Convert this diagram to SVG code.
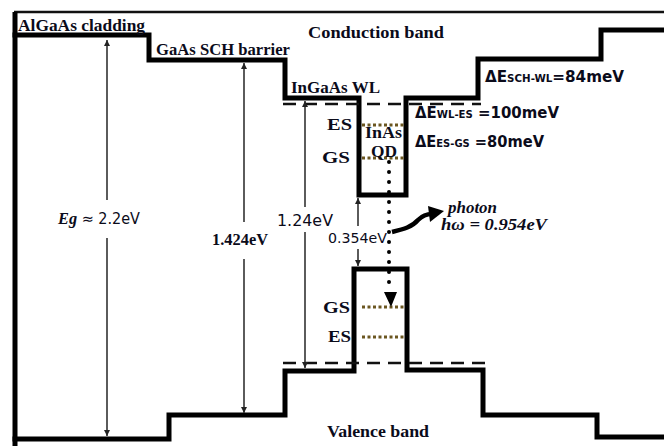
<svg xmlns="http://www.w3.org/2000/svg" width="664" height="446" viewBox="0 0 664 446">
<defs>
<style>
.band{fill:none;stroke:#000;stroke-width:5;stroke-linejoin:miter;stroke-linecap:square}
.dash{fill:none;stroke:#111;stroke-width:2.5;stroke-dasharray:13 8}
.lvl{fill:none;stroke:#6b5620;stroke-width:3;stroke-dasharray:3 2.5}
.thin{fill:none;stroke:#333;stroke-width:1.6}
.lab{font-family:"Liberation Serif",serif;font-weight:bold;font-size:16.5px;fill:#0b0b1a}
.sans{font-family:"DejaVu Sans","Liberation Sans",sans-serif;fill:#0b0b1a}
.de{font-family:"DejaVu Sans","Liberation Sans",sans-serif;font-weight:bold;font-size:15.5px;fill:#0b0b1a}
.ph{font-family:"Liberation Serif",serif;font-weight:bold;font-style:italic;font-size:16px;fill:#0b0b1a}
</style>
<marker id="ah" viewBox="0 0 10 10" refX="10" refY="5" markerWidth="6" markerHeight="7" markerUnits="userSpaceOnUse" orient="auto-start-reverse">
<path d="M0,0 L10,5 L0,10 z" fill="#222"/>
</marker>
</defs>
<rect width="664" height="446" fill="#fff"/>
<g id="frame">
<path d="M14,12 H664" stroke="#111" stroke-width="2.5" fill="none"/>
<path d="M15,12 V446" stroke="#000" stroke-width="5" fill="none"/>
</g>
<g id="conduction-band">
<path class="band" d="M15,35 H149 V60 H285 V98 H359 V195 H406 V98 H478 V59 H601 V30 H664"/>
<path class="dash" d="M283,104 H481"/>
</g>
<g id="valence-band">
<path class="band" d="M15,439 H169 V415 H285 V371 H354 V269 H407 V370 H483 V415 H597 V437 H664"/>
<path class="dash" d="M283,363 H490"/>
</g>
<g id="qd-levels">
<path class="lvl" d="M362,125 H405"/>
<path class="lvl" d="M362,158 H405"/>
<path class="lvl" d="M362,307 H404"/>
<path class="lvl" d="M362,337 H404"/>
<text class="lab" x="327" y="130" textLength="25" lengthAdjust="spacingAndGlyphs">ES</text>
<text class="lab" x="322" y="163" textLength="28" lengthAdjust="spacingAndGlyphs">GS</text>
<text class="lab" x="365" y="138" font-size="12px" textLength="37" lengthAdjust="spacingAndGlyphs">InAs</text>
<text class="lab" x="371" y="157" font-size="12px" textLength="26" lengthAdjust="spacingAndGlyphs">QD</text>
<text class="lab" x="323" y="313" textLength="27" lengthAdjust="spacingAndGlyphs">GS</text>
<text class="lab" x="328" y="342" textLength="23" lengthAdjust="spacingAndGlyphs">ES</text>
</g>
<g id="connectors">
<path class="thin" d="M107,200 V40" marker-end="url(#ah)"/>
<path class="thin" d="M107,238 V436" marker-end="url(#ah)"/>
<path class="thin" d="M244,222 V63" marker-end="url(#ah)"/>
<path class="thin" d="M244,259 V413" marker-end="url(#ah)"/>
<path class="thin" d="M305,207 V101" marker-end="url(#ah)"/>
<path class="thin" d="M305,232 V368" marker-end="url(#ah)"/>
<path class="thin" d="M358,226 V198" marker-end="url(#ah)"/>
<path class="thin" d="M358,249 V266" marker-end="url(#ah)"/>
<path d="M389,162 V292" fill="none" stroke="#000" stroke-width="4" stroke-linecap="round" stroke-dasharray="0 10"/>
<polygon points="384,292 397,292 391,307" fill="#000"/>
<path d="M392,232 C404,229 412,227 418,220 C423,215 427,214 432,214" fill="none" stroke="#000" stroke-width="4.5"/>
<polygon points="428,206 444,211 430,222" fill="#000"/>
</g>
<g id="labels">
<text class="lab" x="18" y="31" textLength="127" lengthAdjust="spacingAndGlyphs">AlGaAs cladding</text>
<text class="lab" x="156" y="55" textLength="134" lengthAdjust="spacingAndGlyphs">GaAs SCH barrier</text>
<text class="lab" x="291" y="93" textLength="89" lengthAdjust="spacingAndGlyphs">InGaAs WL</text>
<text class="lab" x="308" y="38" textLength="136" lengthAdjust="spacingAndGlyphs">Conduction band</text>
<text class="lab" x="327" y="437" textLength="102" lengthAdjust="spacingAndGlyphs">Valence band</text>
<text x="58" y="224" class="sans" font-size="15px" textLength="82" lengthAdjust="spacingAndGlyphs"><tspan font-family="Liberation Serif,serif" font-style="italic" font-weight="bold" font-size="17px">Eg</tspan> ≈ 2.2eV</text>
<text x="212" y="245" class="lab" font-size="15px" textLength="56" lengthAdjust="spacingAndGlyphs">1.424eV</text>
<text x="277" y="226" class="sans" font-size="15px" textLength="56" lengthAdjust="spacingAndGlyphs">1.24eV</text>
<text x="328" y="243" class="sans" font-size="14px" textLength="59" lengthAdjust="spacingAndGlyphs">0.354eV</text>
<text class="ph" x="448" y="213" textLength="49" lengthAdjust="spacingAndGlyphs">photon</text>
<text class="ph" x="441" y="230" textLength="106" lengthAdjust="spacingAndGlyphs">hω = 0.954eV</text>
<text class="de" x="485" y="82" textLength="139" lengthAdjust="spacingAndGlyphs">ΔE<tspan font-size="10.5px">SCH-WL</tspan>=84meV</text>
<text class="de" x="415" y="118" textLength="144" lengthAdjust="spacingAndGlyphs">ΔE<tspan font-size="10.5px">WL-ES</tspan> =100meV</text>
<text class="de" x="415" y="147" textLength="129" lengthAdjust="spacingAndGlyphs">ΔE<tspan font-size="10.5px">ES-GS</tspan> =80meV</text>
</g>
</svg>
